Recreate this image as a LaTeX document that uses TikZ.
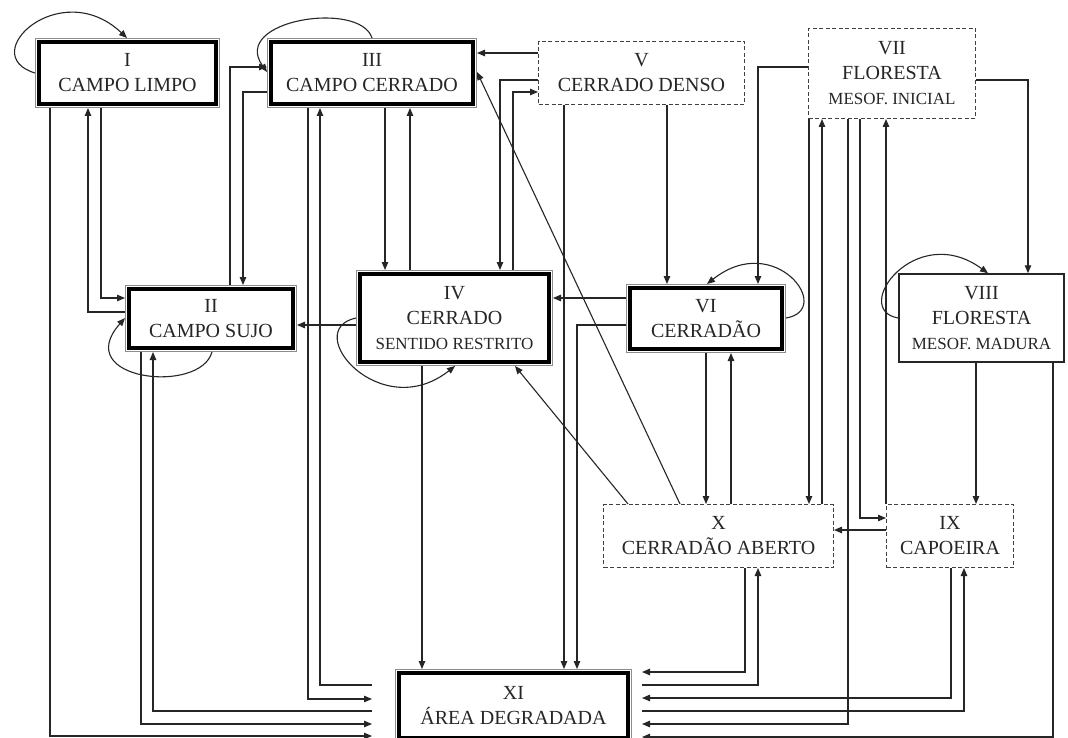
\documentclass[tikz,border=0pt]{standalone}
\usepackage{fontspec}
\setmainfont{Liberation Serif}
\usetikzlibrary{arrows.meta}
\newcommand\smallfnt{\fontsize{17}{24}\selectfont}
\begin{document}
\begin{tikzpicture}[x=1pt,y=-1pt,
  every node/.style={align=center, font=\fontsize{20}{25}\selectfont, text=black!85, inner sep=0pt},
  dbox/.style={rectangle, fill=white, draw=black, line width=3.5pt, outer sep=4pt,
     preaction={draw=black!45, line width=8pt}, preaction={draw=white, line width=5.5pt}},
  dashbox/.style={rectangle, draw=black!75, line width=1pt, dash pattern=on 4pt off 2.5pt},
  sbox/.style={rectangle, draw=black!85, line width=1.5pt},
  ln/.style={draw=black!85, line width=1.1pt},
  ar/.style={ln, -{Triangle[length=8pt,width=6.5pt]}},
  ]
\useasboundingbox (0,0) rectangle (1068,738);
\fill[white] (0,0) rectangle (1068,738);

% nodes
\node[dbox, minimum width=177pt, minimum height=62pt] (I) at (127.5,73) {I\\CAMPO LIMPO};
\node[dbox, minimum width=202pt, minimum height=62pt] (III) at (372,73) {III\\CAMPO CERRADO};
\node[dbox, minimum width=164pt, minimum height=59pt] (II) at (211,318.5) {II\\CAMPO SUJO};
\node[dbox, minimum width=189pt, minimum height=88pt] (IV) at (454.5,318) {IV\\CERRADO\\{\smallfnt SENTIDO RESTRITO}};
\node[dbox, minimum width=152pt, minimum height=61pt] (VI) at (706,318.5) {VI\\CERRADÃO};
\node[dbox, minimum width=229pt, minimum height=65pt] (XI) at (513.5,705.5) {XI\\ÁREA DEGRADADA};
\node[dashbox, minimum width=206pt, minimum height=63pt] (V) at (641.5,73) {V\\CERRADO DENSO};
\node[dashbox, minimum width=167pt, minimum height=90pt] (VII) at (892,73.5) {VII\\FLORESTA\\{\smallfnt MESOF. INICIAL}};
\node[dashbox, minimum width=230pt, minimum height=63pt] (X) at (718.5,536) {X\\CERRADÃO ABERTO};
\node[dashbox, minimum width=127pt, minimum height=63pt] (IX) at (950,536) {IX\\CAPOEIRA};
\node[sbox, minimum width=165pt, minimum height=88pt] (VIII) at (981.5,318) {VIII\\FLORESTA\\{\smallfnt MESOF. MADURA}};

% self loops
\draw[ar] (I.west) .. controls (-25,55) and (60,-25) .. (I.north -| 127,0);
\draw[ar] (III.north) .. controls (360,0) and (230,20) .. (III.west |- 0,72);
\draw[ar] (II.south -| 212,0) .. controls (200,395) and (70,380) .. (II.west |- 0,318);
\draw[ar] (IV.west) .. controls (300,330) and (380,425) .. (IV.south -| 455,0);
\draw[ar] (VI.east |- 0,318) .. controls (835,310) and (775,230) .. (VI.north -| 707,0);
\draw[ar] (VIII.west) .. controls (850,310) and (915,220) .. (VIII.north -| 988,0);

% connectors
\draw[ar] (I.south -| 50,0) |- ([xshift=-23pt]XI.west |- 0,736);
\draw[ar] (I.south -| 101,0) |- (II.west |- 0,298);
\draw[ar] (II.west |- 0,312) -| (I.south -| 88,0);
\draw[ar] (II.north -| 230,0) |- (III.west |- 0,67);
\draw[ar] (III.west |- 0,92) -| (II.north -| 243,0);
\draw[ar] (II.south -| 141,0) |- ([xshift=-23pt]XI.west |- 0,724);
\draw[ar] ([xshift=-23pt]XI.west |- 0,711) -| (II.south -| 153,0);
\draw[ar] (III.south -| 308,0) |- ([xshift=-23pt]XI.west |- 0,699);
\draw[ar] ([xshift=-23pt]XI.west |- 0,685) -| (III.south -| 320,0);
\draw[ar] (III.south -| 385,0) -- (IV.north -| 385,0);
\draw[ar] (IV.north -| 410,0) -- (III.south -| 410,0);
\draw[ar] (V.west |- 0,53) -- (III.east |- 0,53);
\draw[ar] (V.west |- 0,80) -| (IV.north -| 500,0);
\draw[ar] (IV.north -| 513,0) |- (V.west |- 0,92);
\draw[ar] (V.south -| 564,0) -- (XI.north -| 564,0);
\draw[ar] (V.south -| 667,0) -- (VI.north -| 667,0);
\draw[ar] (VII.west |- 0,67) -| (VI.north -| 758,0);
\draw[ar] (VII.east |- 0,80) -| (VIII.north -| 1028,0);
\draw[ar] (VII.south -| 809,0) -- (X.north -| 809,0);
\draw[ar] (X.north -| 822,0) -- (VII.south -| 822,0);
\draw[ar] (VII.south -| 848,0) |- ([xshift=10pt]XI.east |- 0,724);
\draw[ar] (VII.south -| 860,0) |- (IX.west |- 0,518);
\draw[ar] (IX.north -| 886,0) -- (VII.south -| 886,0);
\draw[ar] (IX.west |- 0,530) -- (X.east |- 0,530);
\draw[ar] (VI.west |- 0,298) -- (IV.east |- 0,298);
\draw[ar] (VI.west |- 0,325) -| (XI.north -| 577,0);
\draw[ar] (VI.south -| 706,0) -- (X.north -| 706,0);
\draw[ar] (X.north -| 731,0) -- (VI.south -| 731,0);
\draw[ar] (IV.west |- 0,325) -- (II.east |- 0,325);
\draw[ar] (IV.south -| 422,0) -- (XI.north -| 422,0);
\draw[ar] (X.north -| 628,0) -- (IV.south -| 515,0);
\draw[ar] (X.north -| 680,0) -- (III.east |- 0,72);
\draw[ar] (X.south -| 745,0) |- ([xshift=10pt]XI.east |- 0,672);
\draw[ar] ([xshift=10pt]XI.east |- 0,685) -| (X.south -| 758,0);
\draw[ar] (IX.south -| 951,0) |- ([xshift=10pt]XI.east |- 0,698);
\draw[ar] ([xshift=10pt]XI.east |- 0,711) -| (IX.south -| 964,0);
\draw[ar] (VIII.south -| 976,0) -- (IX.north -| 976,0);
\draw[ar] (VIII.south -| 1053,0) |- ([xshift=10pt]XI.east |- 0,737);
\end{tikzpicture}
\end{document}
